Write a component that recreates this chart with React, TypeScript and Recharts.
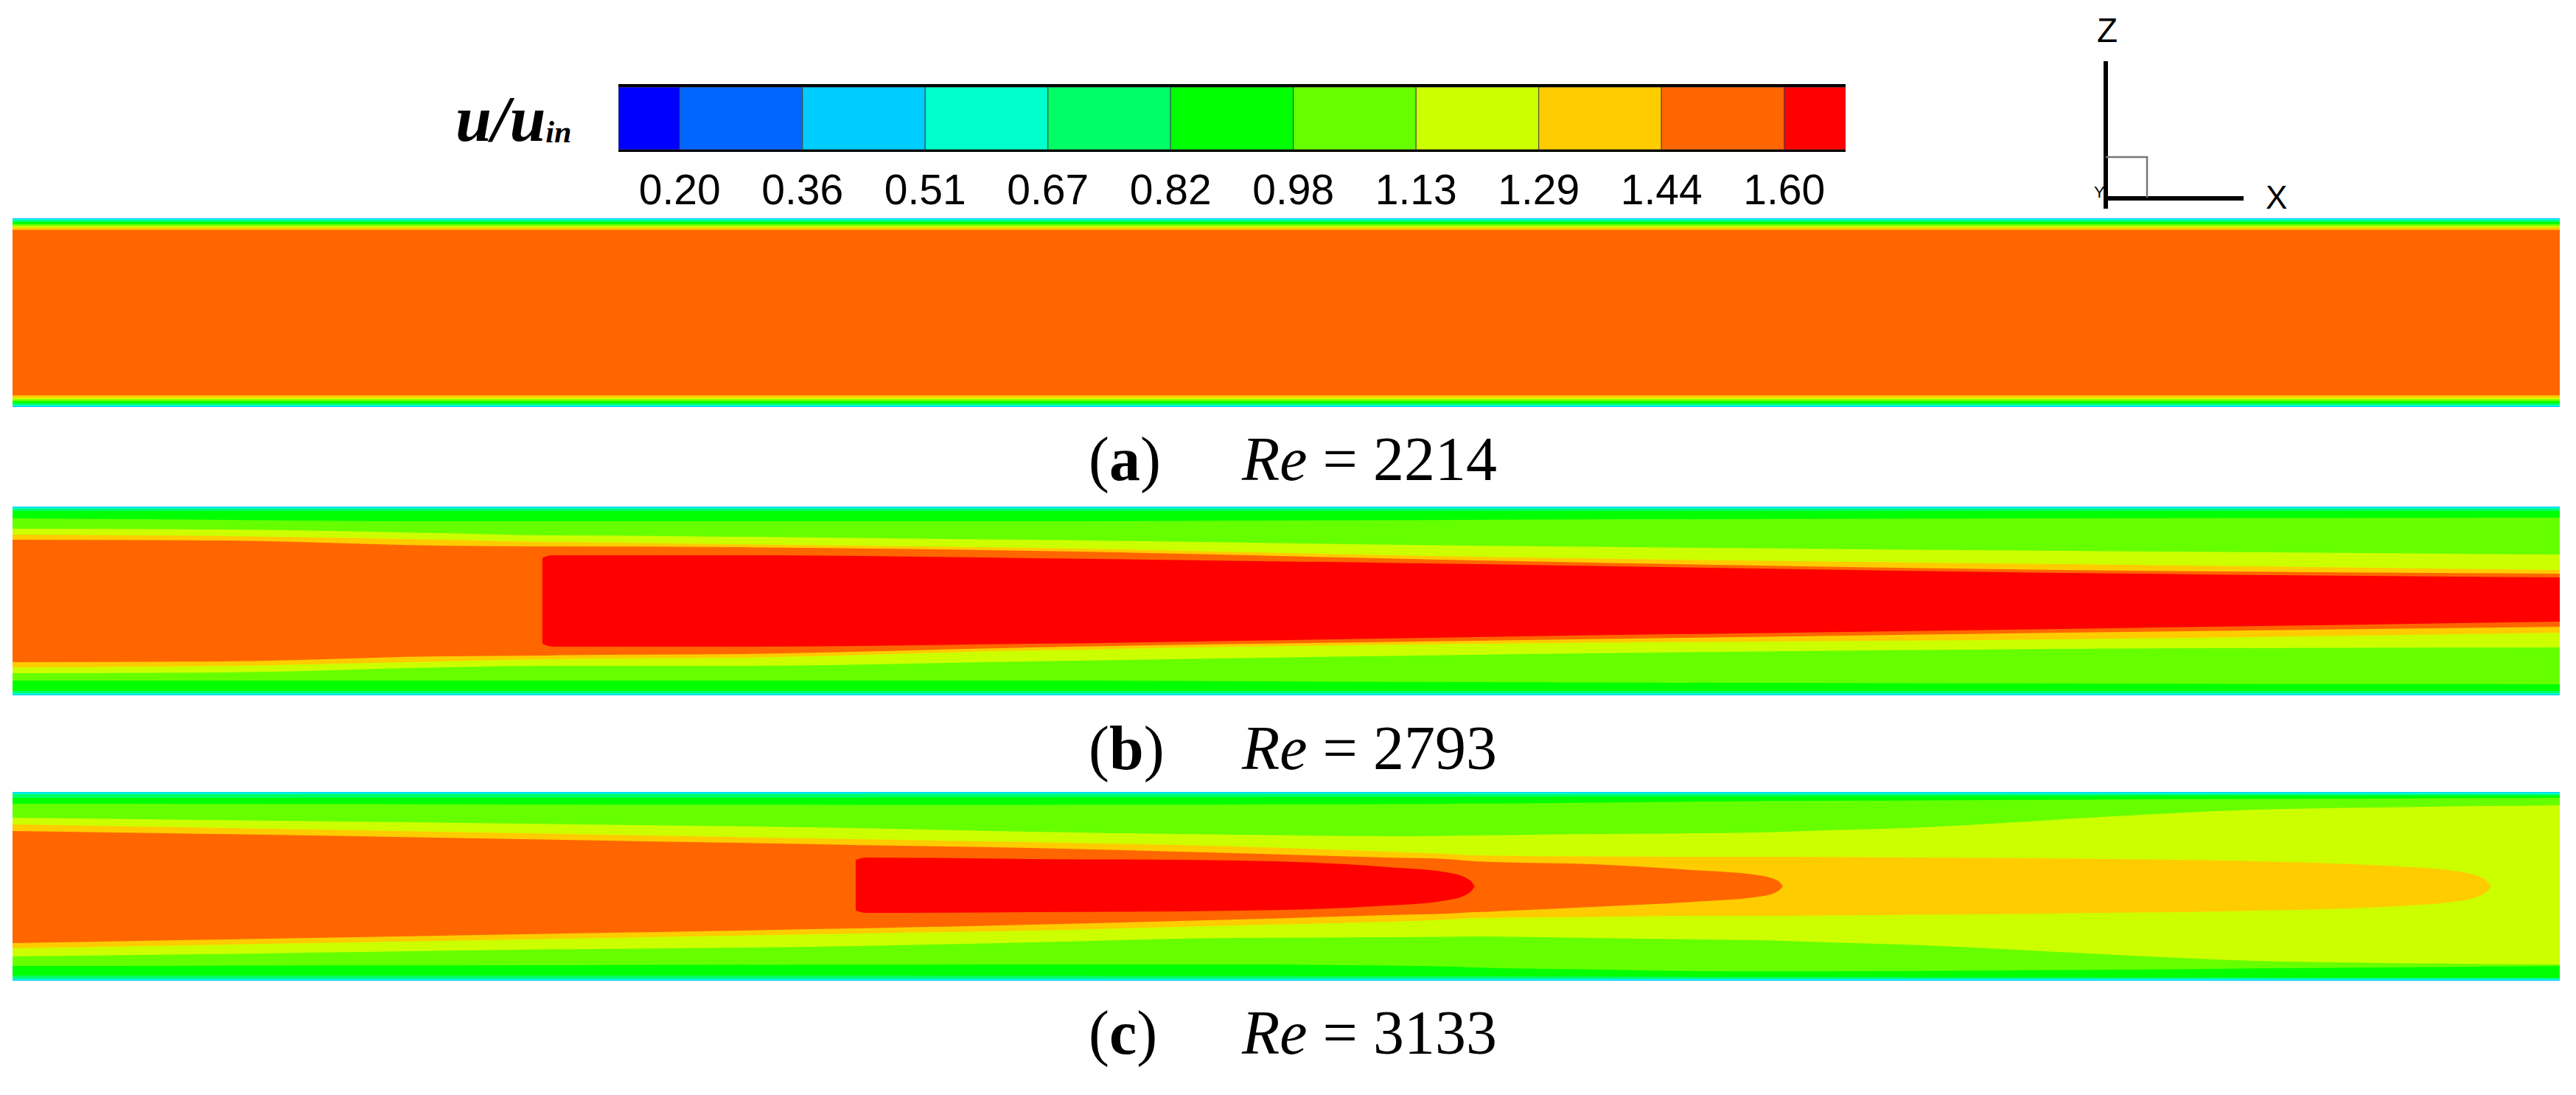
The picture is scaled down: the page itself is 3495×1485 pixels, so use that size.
import React from 'react'
import { ComposedChart, Area, XAxis, YAxis, BarChart, Bar } from 'recharts'

type Band = [number, number] | null

// u/u_in contour levels (legend ticks) and band colours, low -> high
const levelValues = [0.2, 0.3556, 0.5111, 0.6667, 0.8222, 0.9778, 1.1333, 1.2889, 1.4444, 1.6]
const bandColors = [
  '#0000ff', '#0066ff', '#00ccff', '#00ffcc', '#00ff66', '#00ff00',
  '#66ff00', '#ccff00', '#ffcc00', '#ff6600', '#ff0000',
]
// region where u/u_in exceeds 0.36, 0.51 ... 1.60 ; value = [z low, z high], z/H from bottom wall
const levelKeys = ['l036', 'l051', 'l067', 'l082', 'l098', 'l113', 'l129', 'l144', 'l160']

// (a) Re = 2214, x/L in %
const aX = [0, 100]
const aL036: Band[] = [[0, 1], [0, 1]]
const aL051: Band[] = [[0.005, 0.995], [0.005, 0.995]]
const aL067: Band[] = [[0.012, 0.988], [0.012, 0.988]]
const aL082: Band[] = [[0.02, 0.98], [0.02, 0.98]]
const aL098: Band[] = [[0.03, 0.97], [0.03, 0.97]]
const aL113: Band[] = [[0.04, 0.96], [0.04, 0.96]]
const aL129: Band[] = [[0.049, 0.951], [0.049, 0.951]]
const aL144: Band[] = [[0.062, 0.938], [0.062, 0.938]]
const aL160: Band[] = [null, null]

// (b) Re = 2793
const bX = [0, 8.2, 16.9, 20.8, 21.2, 28.4, 40, 57.4, 80.5, 100]
const bL036: Band[] = [[0, 1], [0, 1], [0, 1], [0, 1], [0, 1], [0, 1], [0, 1], [0, 1], [0, 1], [0, 1]]
const bL051: Band[] = [[0.005, 0.995], [0.005, 0.995], [0.005, 0.995], [0.005, 0.995], [0.005, 0.995], [0.005, 0.995], [0.005, 0.995], [0.005, 0.995], [0.005, 0.995], [0.005, 0.995]]
const bL067: Band[] = [[0.012, 0.988], [0.012, 0.988], [0.012, 0.988], [0.012, 0.988], [0.012, 0.988], [0.012, 0.988], [0.012, 0.988], [0.012, 0.988], [0.012, 0.988], [0.012, 0.988]]
const bL082: Band[] = [[0.023, 0.977], [0.023, 0.977], [0.023, 0.977], [0.023, 0.977], [0.023, 0.977], [0.023, 0.977], [0.023, 0.977], [0.023, 0.977], [0.023, 0.977], [0.023, 0.977]]
const bL098: Band[] = [[0.078, 0.9375], [0.078, 0.93], [0.078, 0.922], [0.078, 0.922], [0.078, 0.922], [0.078, 0.922], [0.078, 0.922], [0.07, 0.93], [0.0625, 0.9375], [0.059, 0.941]]
const bL113: Band[] = [[0.117, 0.883], [0.121, 0.879], [0.148, 0.859], [0.156, 0.848], [0.156, 0.848], [0.156, 0.84], [0.18, 0.824], [0.215, 0.793], [0.246, 0.766], [0.254, 0.746]]
const bL129: Band[] = [[0.148, 0.852], [0.156, 0.844], [0.18, 0.824], [0.191, 0.8125], [0.192, 0.812], [0.199, 0.801], [0.238, 0.781], [0.273, 0.734], [0.297, 0.695], [0.332, 0.664]]
const bL144: Band[] = [[0.176, 0.824], [0.18, 0.82], [0.207, 0.793], [0.211, 0.789], [0.212, 0.789], [0.219, 0.785], [0.254, 0.766], [0.289, 0.715], [0.332, 0.664], [0.363, 0.645]]
const bL160: Band[] = [null, null, null, [0.272, 0.728], [0.258, 0.742], [0.258, 0.742], [0.273, 0.727], [0.309, 0.695], [0.352, 0.648], [0.391, 0.625]]

// (c) Re = 3133
const cX = [0, 10, 20, 33.1, 33.5, 40, 48, 54, 56.3, 57.2, 57.4, 62, 66, 68.5, 69.3, 69.5, 75, 82, 88, 93, 96, 97.1, 97.3, 100]
const cL036: Band[] = [[0, 1], [0, 1], [0, 1], [0, 1], [0, 1], [0, 1], [0, 1], [0, 1], [0, 1], [0, 1], [0, 1], [0, 1], [0, 1], [0, 1], [0, 1], [0, 1], [0, 1], [0, 1], [0, 1], [0, 1], [0, 1], [0, 1], [0, 1], [0, 1]]
const cL051: Band[] = [[0.005, 0.995], [0.005, 0.995], [0.005, 0.995], [0.005, 0.995], [0.005, 0.995], [0.005, 0.995], [0.005, 0.995], [0.005, 0.995], [0.005, 0.995], [0.005, 0.995], [0.005, 0.995], [0.005, 0.995], [0.005, 0.995], [0.005, 0.995], [0.005, 0.995], [0.005, 0.995], [0.005, 0.995], [0.005, 0.995], [0.005, 0.995], [0.005, 0.995], [0.005, 0.995], [0.005, 0.995], [0.005, 0.995], [0.005, 0.995]]
const cL067: Band[] = [[0.012, 0.988], [0.012, 0.988], [0.012, 0.988], [0.012, 0.988], [0.012, 0.988], [0.012, 0.988], [0.012, 0.988], [0.012, 0.988], [0.012, 0.988], [0.012, 0.988], [0.012, 0.988], [0.012, 0.988], [0.012, 0.988], [0.012, 0.988], [0.012, 0.988], [0.012, 0.988], [0.012, 0.988], [0.012, 0.988], [0.012, 0.988], [0.012, 0.988], [0.012, 0.988], [0.012, 0.988], [0.012, 0.988], [0.012, 0.988]]
const cL082: Band[] = [[0.027, 0.969], [0.027, 0.969], [0.027, 0.97], [0.027, 0.97], [0.027, 0.97], [0.026, 0.971], [0.025, 0.972], [0.024, 0.973], [0.024, 0.973], [0.024, 0.974], [0.024, 0.974], [0.022, 0.975], [0.02, 0.976], [0.02, 0.977], [0.02, 0.977], [0.02, 0.977], [0.019, 0.978], [0.018, 0.979], [0.017, 0.98], [0.016, 0.98], [0.016, 0.98], [0.016, 0.98], [0.016, 0.98], [0.015, 0.98]]
const cL098: Band[] = [[0.078, 0.9375], [0.08, 0.936], [0.082, 0.934], [0.085, 0.932], [0.085, 0.932], [0.086, 0.932], [0.086, 0.934], [0.08, 0.936], [0.075, 0.937], [0.071, 0.938], [0.07, 0.938], [0.06, 0.943], [0.051, 0.949], [0.05, 0.951], [0.05, 0.952], [0.05, 0.952], [0.052, 0.955], [0.058, 0.96], [0.065, 0.963], [0.07, 0.965], [0.073, 0.967], [0.075, 0.968], [0.075, 0.968], [0.078, 0.969]]
const cL113: Band[] = [[0.129, 0.863], [0.145, 0.848], [0.164, 0.832], [0.184, 0.809], [0.185, 0.808], [0.203, 0.789], [0.227, 0.773], [0.23, 0.766], [0.232, 0.768], [0.234, 0.77], [0.234, 0.77], [0.227, 0.777], [0.219, 0.781], [0.215, 0.785], [0.212, 0.788], [0.211, 0.789], [0.1875, 0.8125], [0.141, 0.867], [0.105, 0.906], [0.094, 0.918], [0.09, 0.924], [0.088, 0.926], [0.088, 0.926], [0.086, 0.93]]
const cL129: Band[] = [[0.172, 0.828], [0.195, 0.805], [0.219, 0.781], [0.25, 0.75], [0.251, 0.749], [0.266, 0.734], [0.293, 0.711], [0.3125, 0.684], [0.324, 0.672], [0.331, 0.665], [0.332, 0.664], [0.338, 0.658], [0.344, 0.656], [0.344, 0.656], [0.344, 0.656], [0.344, 0.656], [0.35, 0.652], [0.359, 0.645], [0.371, 0.633], [0.391, 0.61], [0.421, 0.579], [0.467, 0.533], [0.5, 0.5], null]
const cL144: Band[] = [[0.199, 0.793], [0.223, 0.773], [0.246, 0.75], [0.277, 0.719], [0.278, 0.718], [0.297, 0.703], [0.324, 0.676], [0.348, 0.652], [0.355, 0.645], [0.362, 0.635], [0.363, 0.633], [0.391, 0.617], [0.418, 0.586], [0.444, 0.56], [0.474, 0.53], [0.5, 0.5], null, null, null, null, null, null, null, null]
const cL160: Band[] = [null, null, null, [0.372, 0.64], [0.359, 0.652], [0.363, 0.645], [0.371, 0.637], [0.398, 0.602], [0.426, 0.574], [0.466, 0.534], [0.5, 0.5], null, null, null, null, null, null, null, null, null, null, null, null, null]

const captions = [
  { tag: 'a', re: '2214' },
  { tag: 'b', re: '2793' },
  { tag: 'c', re: '3133' },
]

function buildRows(xs: number[], levels: Band[][]) {
  return xs.map((x, i) => {
    const row: Record<string, any> = { x }
    levelKeys.forEach((k, j) => { row[k] = levels[j][i] })
    return row
  })
}

const panels = [
  { top: 296, rows: buildRows(aX, [aL036, aL051, aL067, aL082, aL098, aL113, aL129, aL144, aL160]) },
  { top: 687, rows: buildRows(bX, [bL036, bL051, bL067, bL082, bL098, bL113, bL129, bL144, bL160]) },
  { top: 1074, rows: buildRows(cX, [cL036, cL051, cL067, cL082, cL098, cL113, cL129, cL144, cL160]) },
]

// colour bar: half-width bands at both ends, like the Tecplot legend
const cbLow = levelValues[0] - (levelValues[1] - levelValues[0]) / 2
const cbHigh = levelValues[9] + (levelValues[9] - levelValues[8]) / 2
const cbEdges = [cbLow, ...levelValues, cbHigh]
const cbRow: Record<string, any> = { name: 'u', off: cbLow }
bandColors.forEach((_, i) => { cbRow['b' + i] = cbEdges[i + 1] - cbEdges[i] })

function Contour({ top, rows }: { top: number; rows: any[] }) {
  return (
    <div style={{ position: 'absolute', left: 17, top }}>
      <ComposedChart width={3456} height={256} data={rows} margin={{ top: 0, right: 0, bottom: 0, left: 0 }}>
        <XAxis type="number" dataKey="x" domain={[0, 100]} allowDataOverflow hide />
        <YAxis type="number" domain={[0, 1]} allowDataOverflow hide />
        {levelKeys.map((k, i) => (
          <Area
            key={k}
            dataKey={k}
            type="monotone"
            stroke="none"
            fill={bandColors[i + 2]}
            fillOpacity={1}
            dot={false}
            activeDot={false}
            isAnimationActive={false}
          />
        ))}
      </ComposedChart>
    </div>
  )
}

function ColorBar() {
  return (
    <div style={{ position: 'absolute', left: 839, top: 118 }}>
      <BarChart width={1665} height={195} data={[cbRow]} layout="vertical" barCategoryGap={0}
        margin={{ top: 0, right: 0, bottom: 0, left: 0 }}>
        <XAxis type="number" domain={[cbLow, cbHigh]} allowDataOverflow ticks={levelValues} interval={0}
          tickFormatter={(v: number) => v.toFixed(2)} axisLine={false} tickLine={false} tickSize={0}
          tickMargin={34} height={110}
          tick={{ fontSize: 57, fill: '#000', fontFamily: 'Liberation Sans, Arial, sans-serif' }} />
        <YAxis type="category" dataKey="name" hide />
        <Bar dataKey="off" stackId="s" fill="transparent" isAnimationActive={false} />
        {bandColors.map((c, i) => (
          <Bar key={i} dataKey={'b' + i} stackId="s" fill={c} stroke="#444" strokeWidth={1}
            isAnimationActive={false} />
        ))}
      </BarChart>
      <div style={{ position: 'absolute', left: 0, top: -4, width: 1665, height: 4, background: '#000' }} />
      <div style={{ position: 'absolute', left: 0, top: 85, width: 1665, height: 3, background: '#000' }} />
    </div>
  )
}

export default function App() {
  const serif = 'Liberation Serif, Times New Roman, serif'
  const sans = 'Liberation Sans, Arial, sans-serif'
  const capBase = [651, 1043, 1429]
  return (
    <div style={{ position: 'absolute', left: 0, top: 0, width: 3495, height: 1485, background: '#fff', overflow: 'hidden' }}>
      {panels.map((p, i) => <Contour key={i} top={p.top} rows={p.rows} />)}
      <ColorBar />
      <svg width={3495} height={1485} style={{ position: 'absolute', left: 0, top: 0, pointerEvents: 'none' }}>
        {/* legend title */}
        <text x={618} y={191} fontFamily={serif} fontStyle="italic" fontWeight="bold" fill="#000">
          <tspan fontSize={88}>u/u</tspan>
          <tspan fontSize={42} dy={2}>in</tspan>
        </text>
        {/* axis triad */}
        <rect x={2854} y={83} width={6} height={200} fill="#000" />
        <rect x={2854} y={266} width={190} height={6} fill="#000" />
        <polyline points="2857,213 2913,213 2913,268" fill="none" stroke="#777" strokeWidth={2.5} />
        <text x={2845} y={57} fontFamily={sans} fontSize={46} fill="#000">Z</text>
        <text x={3074} y={283} fontFamily={sans} fontSize={44} fill="#000">X</text>
        <text x={2841} y={268} fontFamily={sans} fontSize={22} fill="#000">Y</text>
        {/* captions */}
        {captions.map((c, i) => (
          <g key={c.tag}>
            <text x={1477} y={capBase[i]} fontFamily={serif} fontSize={84} fill="#000">
              (<tspan fontWeight="bold">{c.tag}</tspan>)
            </text>
            <text x={1685} y={capBase[i]} fontFamily={serif} fontSize={84} fill="#000">
              <tspan fontStyle="italic">Re</tspan> = {c.re}
            </text>
          </g>
        ))}
      </svg>
    </div>
  )
}
